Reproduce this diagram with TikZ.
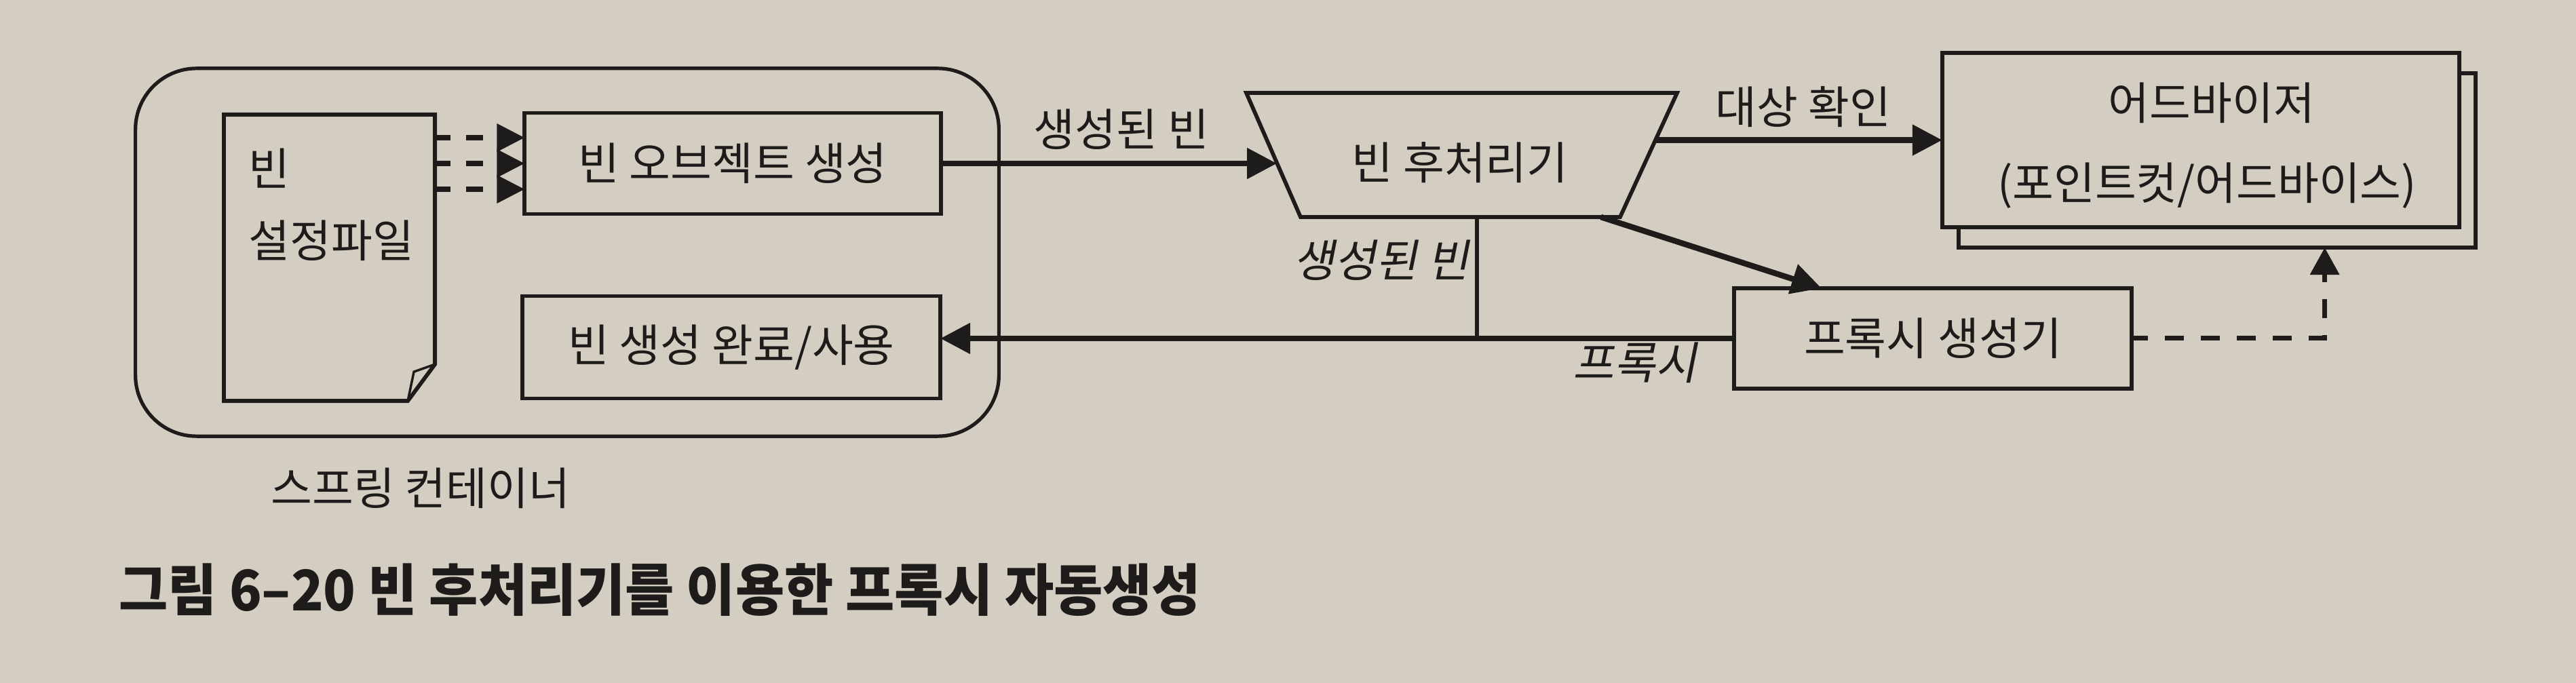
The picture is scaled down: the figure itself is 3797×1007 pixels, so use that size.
\documentclass[tikz,border=0pt]{standalone}
\usepackage{graphicx}
\usepackage{fontspec}
\setmainfont{Noto Sans CJK KR}
\newfontfamily\slantfont[FakeSlant=0.2]{Noto Sans CJK KR}
\newfontfamily\capfont{Noto Sans CJK KR}
\usetikzlibrary{arrows.meta,calc}
\definecolor{paper}{RGB}{212,206,194}
\definecolor{ink}{RGB}{30,28,27}
\begin{document}
\begin{tikzpicture}[x=0.01cm,y=-0.01cm,
  txt/.style={font=\fontsize{18.8pt}{22pt}\selectfont, text=ink, inner sep=0pt},
  slanttxt/.style={font=\slantfont\fontsize{18.8pt}{22pt}\selectfont, text=ink, inner sep=0pt},
  boxline/.style={draw=ink, line width=0.058cm},
  plainbox/.style={boxline, rectangle, inner sep=0pt, outer sep=0pt, txt},
  conn/.style={draw=ink, line width=0.085cm},
  arrowhd/.style={-{Triangle[length=0.44cm,width=0.44cm]}},
  dashline/.style={draw=ink, line width=0.07cm, dash pattern=on 0.28cm off 0.25cm, dash phase=0.04cm}
]
\fill[paper] (0,0) rectangle (3797,1007);
\useasboundingbox (0,0) rectangle (3797,1007);

% container
\node[draw=ink, line width=0.052cm, rounded corners=0.9cm, minimum width=12.72cm,
      minimum height=5.42cm, inner sep=0pt, outer sep=0pt] (cont) at (836,372) {};
\node[txt] (contlab) at (620,720) {스프링 컨테이너};

% bean config document
\node[minimum width=3.11cm, minimum height=4.22cm, inner sep=0pt, outer sep=0pt] (doc) at (485.5,380) {};
\draw[boxline, line join=miter] (doc.north west) -- (doc.north east) -- ($(doc.south east)+(0,-54)$)
   -- ($(doc.south east)+(-40,0)$) -- (doc.south west) -- cycle;
\draw[draw=ink, line width=0.035cm] ($(doc.south east)+(0,-54)$) -- ($(doc.south east)+(-31,-43)$)
   -- ($(doc.south east)+(-40,0)$);
\node[txt, anchor=west] (doct1) at (366,248) {빈};
\node[txt, anchor=west] (doct2) at (366,355) {설정파일};

% boxes in container
\node[plainbox, minimum width=6.13cm, minimum height=1.49cm] (obj) at (1080,241) {빈 오브젝트 생성};
\node[plainbox, minimum width=6.16cm, minimum height=1.51cm] (done) at (1078,512) {빈 생성 완료/사용};

\foreach \dy [count=\i] in {-38,0,38} {
  \coordinate (da\i) at ($(obj.west)+(0,\dy)$);
  \draw[draw=ink, line width=0.075cm, dash pattern=on 0.25cm off 0.23cm, dash phase=0.02cm,
        -{Triangle[length=0.41cm,width=0.40cm]}] (doc.east |- da\i) -- (da\i);
}

% bean post processor (trapezoid)
\coordinate (tl) at (1837,137);
\coordinate (tr) at (2472,137);
\coordinate (br) at (2388,320);
\coordinate (bl) at (1917,320);
\draw[boxline, line join=miter] (tl) -- (tr) -- (br) -- (bl) -- cycle;
\node[txt] (post) at (2152,240) {빈 후처리기};

% proxy generator
\node[plainbox, minimum width=5.86cm, minimum height=1.48cm] (proxy) at (2849,499) {프록시 생성기};

% advisor stack
\node[plainbox, fill=paper, minimum width=7.62cm, minimum height=2.57cm] (advback) at (3268,236.5) {};
\node[plainbox, fill=paper, minimum width=7.62cm, minimum height=2.57cm] (adv) at (3244,206.5) {};
\node[txt] (advt1) at (3260,152) {어드바이저};
\node[txt] (advt2) at (3253,274) {(포인트컷/어드바이스)};

% connectors
\coordinate (pin) at ($(tl)!0.563!(bl)$);
\draw[conn, arrowhd] (obj.east) -- (obj.east -| pin);
\node[txt] (lab1) at (1653,191) {생성된 빈};

\coordinate (pout) at ($(tr)!0.38!(br)$);
\draw[conn, arrowhd] (pout) -- (pout -| adv.west);
\node[txt] (lab2) at (2658,158) {대상 확인};

\coordinate (pdiag) at ($(bl)!0.94!(br)$);
\coordinate (pdend) at ($(proxy.north west)!0.22!(proxy.north east)$);
\draw[conn, arrowhd] (pdiag) -- (pdend);

\coordinate (pdown) at ($(bl)!0.552!(br)$);
\draw[draw=ink, line width=0.065cm] (pdown) -- (pdown |- proxy.west);
\draw[conn, arrowhd] (proxy.west) -- (proxy.west -| done.east);
\node[slanttxt] (lab3) at (2036,384) {생성된 빈};
\node[slanttxt] (lab4) at (2410,535) {프록시};

\coordinate (abot) at ($(advback.south west)!0.708!(advback.south east)$);
\draw[dashline, -{Triangle[length=0.40cm,width=0.42cm]}] (proxy.east) -- (proxy.east -| abot) -- (abot);

% caption
\node[anchor=west, inner sep=0pt, text=ink, font=\capfont\bfseries\fontsize{23.5pt}{27pt}\selectfont] (cap)
  at (175,870) {\scalebox{0.95}[1]{그림 6–20 빈 후처리기를 이용한 프록시 자동생성}};
\end{tikzpicture}
\end{document}
